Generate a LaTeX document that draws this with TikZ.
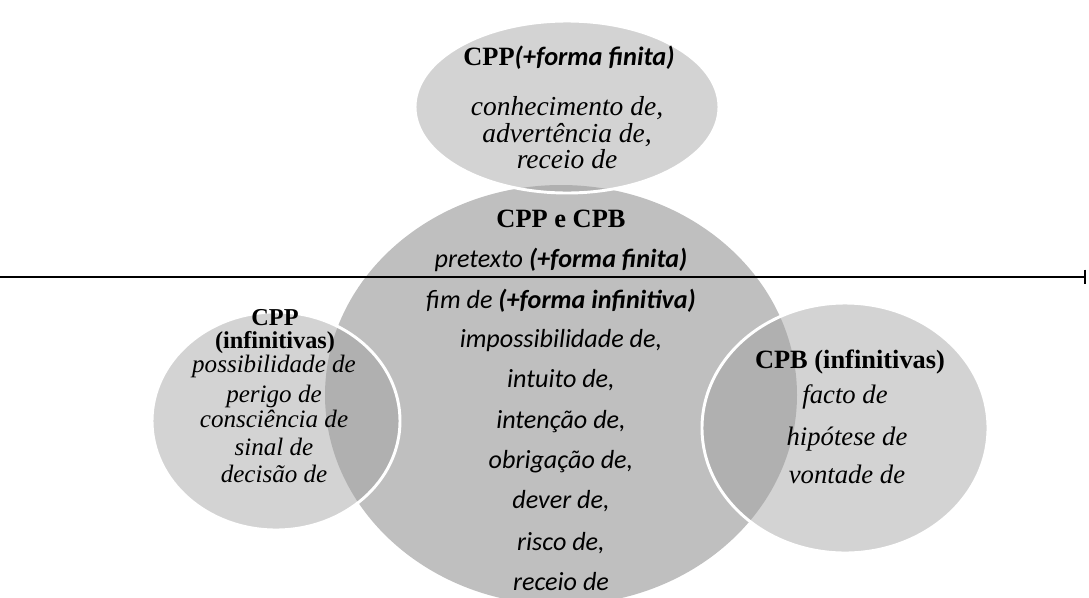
\documentclass[tikz,border=0pt]{standalone}
\usepackage{fontspec}
\setmainfont{Liberation Serif}
\newfontfamily\calib{Carlito}
\usetikzlibrary{shapes.geometric,arrows.meta}
\definecolor{bigfill}{HTML}{BFBFBF}
\definecolor{smallfill}{HTML}{9E9E9E}
\begin{document}
\begin{tikzpicture}[x=0.75pt,y=-0.75pt,
  bigell/.style={ellipse, fill=bigfill, inner sep=0, outer sep=0},
  smallell/.style={ellipse, fill=smallfill, fill opacity=0.45, draw=white, draw opacity=1, line width=2.2pt, inner sep=0, outer sep=0},
  hd/.style={anchor=base, inner sep=0, font=\fontsize{19.8pt}{23pt}\selectfont\bfseries},
  hdsmall/.style={anchor=base, inner sep=0, font=\fontsize{18.2pt}{22pt}\selectfont\bfseries},
  si/.style={anchor=base, inner sep=0, font=\fontsize{20pt}{24pt}\selectfont\itshape},
  sitop/.style={anchor=base, inner sep=0, font=\fontsize{20.6pt}{24pt}\selectfont\itshape},
  sismall/.style={anchor=base, inner sep=0, font=\fontsize{18.8pt}{22pt}\selectfont\itshape},
  ci/.style={anchor=base, inner sep=0, font=\calib\fontsize{19.6pt}{24pt}\selectfont\itshape},
  axisline/.style={line width=1.3pt, -{Bar[width=11pt,line width=1.3pt]}}
]
\useasboundingbox (0,0) rectangle (1089,597);
% shapes
\node[bigell, minimum width=354pt, minimum height=315pt] (big) at (561,395) {};
\node[smallell, minimum width=228pt, minimum height=129pt] (top) at (567,107) {};
\node[smallell, minimum width=186pt, minimum height=163.5pt] (left) at (276,421) {};
\node[smallell, minimum width=214.5pt, minimum height=187.5pt] (right) at (845,428) {};
% axis line
\coordinate (ls) at (0,277);
\coordinate (le) at (1086,277);
\draw[axisline] (ls) -- (le);
% top texts
\node[hd] (t0) at (569,65) {CPP{\calib\itshape(+forma finita)}};
\node[sitop] (t1) at (567,115) {conhecimento de,};
\node[sitop] (t2) at (567,142) {advertência de,};
\node[sitop] (t3) at (567,168) {receio de};
% big texts
\node[hd] (b0) at (561,227) {CPP e CPB};
\node[ci] (b1) at (561,267) {pretexto \textbf{(+forma finita)}};
\node[ci] (b2) at (561,308) {fim de \textbf{(+forma infinitiva)}};
\node[ci] (b3) at (561,347) {impossibilidade de,};
\node[ci] (b4) at (561,387) {intuito de,};
\node[ci] (b5) at (561,428) {intenção de,};
\node[ci] (b6) at (561,468) {obrigação de,};
\node[ci] (b7) at (561,508) {dever de,};
\node[ci] (b8) at (561,550) {risco de,};
\node[ci] (b9) at (561,590) {receio de};
% left texts
\node[hdsmall] (l0) at (275,325) {CPP};
\node[hdsmall] (l1) at (275,348) {(infinitivas)};
\node[sismall] (l2) at (274,372) {possibilidade de};
\node[sismall] (l3) at (274,402) {perigo de};
\node[sismall] (l4) at (274,427) {consciência de};
\node[sismall] (l5) at (274,455) {sinal de};
\node[sismall] (l6) at (274,482) {decisão de};
% right texts
\node[hd] (r0) at (850,368) {CPB (infinitivas)};
\node[si] (r1) at (845,403) {facto de};
\node[si] (r2) at (847,445) {hipótese de};
\node[si] (r3) at (847,483) {vontade de};
\end{tikzpicture}
\end{document}
